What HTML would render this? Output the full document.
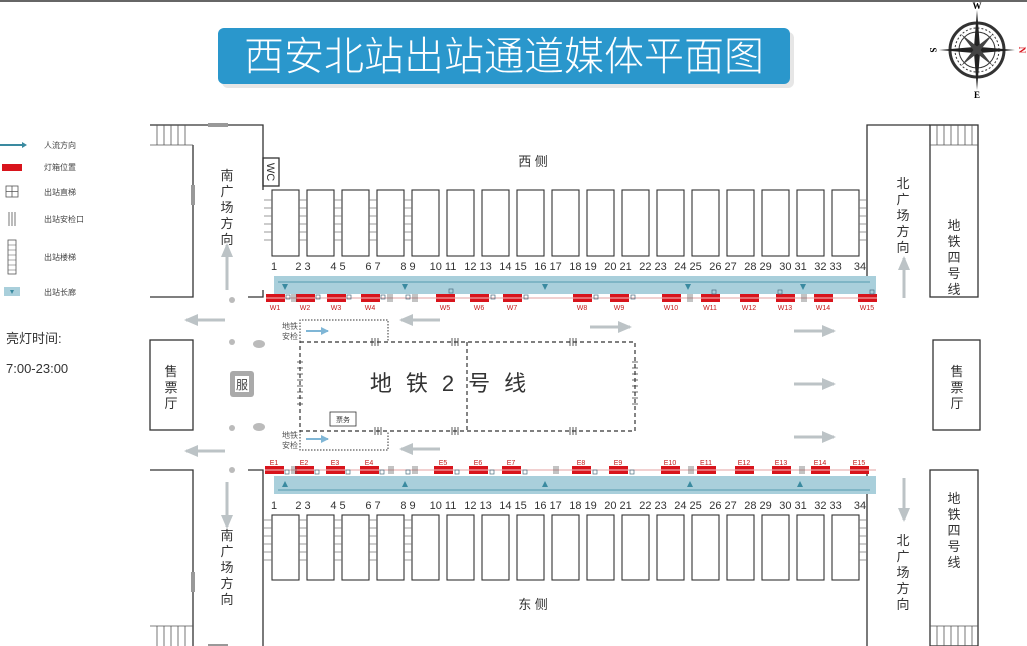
<!DOCTYPE html>
<html><head><meta charset="utf-8"><style>
html,body{margin:0;padding:0;background:#fff;}
svg{display:block;font-family:"Liberation Sans","Noto Sans CJK SC",sans-serif;}
</style></head><body>
<svg width="1027" height="646" viewBox="0 0 1027 646" xmlns="http://www.w3.org/2000/svg">
<defs>
<g id="rb"><rect x="0" y="0" width="19" height="8" fill="#d8141c"/><line x1="0" y1="4" x2="19" y2="4" stroke="#fff" stroke-width="0.8"/></g>
<marker id="ah" markerUnits="userSpaceOnUse" markerWidth="14" markerHeight="12" refX="12" refY="6" orient="auto"><path d="M0 0L14 6L0 12z" fill="#bcc3c6"/></marker>
<marker id="bh" markerUnits="userSpaceOnUse" markerWidth="8" markerHeight="8" refX="7" refY="4" orient="auto"><path d="M0 0L8 4L0 8z" fill="#7fb6d6"/></marker>
</defs>
<line x1="0" y1="1" x2="1027" y2="1" stroke="#333" stroke-width="1.5"/>
<!-- title -->
<rect x="222" y="32" width="572" height="56" rx="6" fill="#e6e6e6"/>
<rect x="218" y="28" width="572" height="56" rx="6" fill="#2a97cc"/>
<text x="504" y="70" font-size="40" fill="#fff" text-anchor="middle" font-family="Noto Sans CJK SC,sans-serif" font-weight="300">西安北站出站通道媒体平面图</text>
<!-- compass -->
<g transform="translate(977,50)">
<circle r="27" fill="none" stroke="#333" stroke-width="3"/><circle r="22" fill="none" stroke="#333" stroke-width="1" stroke-dasharray="2 2"/><circle r="18" fill="none" stroke="#333" stroke-width="1"/>
<path d="M0 -40L3 -3L0 0L-3 -3Z M0 40L3 3L0 0L-3 3Z M-38 0L-3 -3L0 0L-3 3Z M38 0L3 -3L0 0L3 3Z" fill="#222"/>
<path d="M-16 -16L2 -2L-2 2Z M16 16L-2 2L2 -2Z M16 -16L2 2L-2 -2Z M-16 16L-2 -2L2 2Z" fill="#444"/>
<text x="0" y="-41" font-size="9" font-weight="bold" text-anchor="middle" font-family="Liberation Serif,serif">W</text>
<text x="0" y="48" font-size="9" font-weight="bold" text-anchor="middle" font-family="Liberation Serif,serif">E</text>
<text x="-44" y="3" font-size="9" font-weight="bold" text-anchor="middle" transform="rotate(90 -44 0)" font-family="Liberation Serif,serif">S</text>
<text x="45" y="3" font-size="9" font-weight="bold" fill="#d8141c" text-anchor="middle" transform="rotate(90 45 0)" font-family="Liberation Serif,serif">N</text>
</g>
<!-- legend -->
<g font-size="8" fill="#444">
<line x1="0" y1="145" x2="22" y2="145" stroke="#3a8aa0" stroke-width="2"/><path d="M22 142L27 145L22 148Z" fill="#3a8aa0"/>
<text x="44" y="148">人流方向</text>
<rect x="2" y="164" width="20" height="7" fill="#d8141c"/><text x="44" y="170">灯箱位置</text>
<rect x="6" y="186" width="12" height="11" fill="none" stroke="#555" stroke-width="0.8"/><path d="M6 191.5H18M12 186V197" stroke="#555" stroke-width="0.8"/><text x="44" y="195">出站直梯</text>
<path d="M9 212V226M12 212V226M15 212V226" stroke="#555" stroke-width="0.8"/><text x="44" y="222">出站安检口</text>
<rect x="8" y="240" width="8" height="34" fill="none" stroke="#555" stroke-width="0.8"/><path d="M8 245H16M8 250H16M8 255H16M8 260H16M8 265H16M8 270H16" stroke="#555" stroke-width="0.6"/><text x="44" y="260">出站楼梯</text>
<rect x="4" y="287" width="16" height="9" fill="#a9cfdb"/><path d="M10 290L14 290L12 294Z" fill="#3a8aa0"/><text x="44" y="295">出站长廊</text>
</g>
<text x="6" y="343" font-size="13" fill="#333">亮灯时间:</text>
<text x="6" y="373" font-size="13" fill="#333">7:00-23:00</text>
<!-- structure lines -->
<g stroke="#333" stroke-width="1.3" fill="none">
<path d="M150 125H263V190"/><path d="M193 145V297H150"/><path d="M263 290V297H248"/>
<path d="M150 470H193V646"/><path d="M248 470H263V646"/>
<path d="M867 297V125H930"/><path d="M867 470V646"/>
<rect x="930" y="125" width="48" height="172"/><rect x="930" y="470" width="48" height="176"/>
<rect x="150" y="340" width="43" height="90"/><rect x="933" y="340" width="47" height="90"/>
<rect x="263" y="158" width="16" height="28"/>
</g>
<g stroke="#555" stroke-width="0.8" fill="none">
<path d="M150 145H193M157 125V145M164 125V145M171 125V145M178 125V145M185 125V145"/>
<path d="M930 145H978M937 125V145M944 125V145M951 125V145M958 125V145M965 125V145M972 125V145"/>
<path d="M150 626H193M157 626V646M164 626V646M171 626V646M178 626V646M185 626V646"/>
<path d="M930 626H978M937 626V646M944 626V646M951 626V646M958 626V646M965 626V646M972 626V646"/>
</g>
<rect x="191" y="185" width="4" height="20" fill="#999"/><rect x="191" y="572" width="4" height="20" fill="#999"/>
<rect x="208" y="123" width="20" height="4" fill="#999"/><rect x="208" y="644" width="20" height="3" fill="#999"/>
<text x="271" y="176" font-size="11" fill="#333" text-anchor="middle" transform="rotate(90 271 172)">WC</text>
<!-- vertical texts -->
<g font-size="13" fill="#333" text-anchor="middle">
<text x="227" y="180">南</text><text x="227" y="196">广</text><text x="227" y="212">场</text><text x="227" y="228">方</text><text x="227" y="244">向</text>
<text x="227" y="540">南</text><text x="227" y="556">广</text><text x="227" y="572">场</text><text x="227" y="588">方</text><text x="227" y="604">向</text>
<text x="903" y="188">北</text><text x="903" y="204">广</text><text x="903" y="220">场</text><text x="903" y="236">方</text><text x="903" y="252">向</text>
<text x="903" y="545">北</text><text x="903" y="561">广</text><text x="903" y="577">场</text><text x="903" y="593">方</text><text x="903" y="609">向</text>
<text x="954" y="230">地</text><text x="954" y="246">铁</text><text x="954" y="262">四</text><text x="954" y="278">号</text><text x="954" y="294">线</text>
<text x="954" y="503">地</text><text x="954" y="519">铁</text><text x="954" y="535">四</text><text x="954" y="551">号</text><text x="954" y="567">线</text>
<text x="171" y="376">售</text><text x="171" y="392">票</text><text x="171" y="408">厅</text>
<text x="957" y="376">售</text><text x="957" y="392">票</text><text x="957" y="408">厅</text>
<text x="533" y="166">西 侧</text><text x="533" y="609">东 侧</text>
</g>
<!-- platform boxes -->
<g fill="#fff" stroke="#333" stroke-width="1.1">
<rect x="272" y="190" width="27" height="66"/><rect x="307" y="190" width="27" height="66"/><rect x="342" y="190" width="27" height="66"/><rect x="377" y="190" width="27" height="66"/><rect x="412" y="190" width="27" height="66"/><rect x="447" y="190" width="27" height="66"/><rect x="482" y="190" width="27" height="66"/><rect x="517" y="190" width="27" height="66"/><rect x="552" y="190" width="27" height="66"/><rect x="587" y="190" width="27" height="66"/><rect x="622" y="190" width="27" height="66"/><rect x="657" y="190" width="27" height="66"/><rect x="692" y="190" width="27" height="66"/><rect x="727" y="190" width="27" height="66"/><rect x="762" y="190" width="27" height="66"/><rect x="797" y="190" width="27" height="66"/><rect x="832" y="190" width="27" height="66"/>
<rect x="272" y="515" width="27" height="65"/><rect x="307" y="515" width="27" height="65"/><rect x="342" y="515" width="27" height="65"/><rect x="377" y="515" width="27" height="65"/><rect x="412" y="515" width="27" height="65"/><rect x="447" y="515" width="27" height="65"/><rect x="482" y="515" width="27" height="65"/><rect x="517" y="515" width="27" height="65"/><rect x="552" y="515" width="27" height="65"/><rect x="587" y="515" width="27" height="65"/><rect x="622" y="515" width="27" height="65"/><rect x="657" y="515" width="27" height="65"/><rect x="692" y="515" width="27" height="65"/><rect x="727" y="515" width="27" height="65"/><rect x="762" y="515" width="27" height="65"/><rect x="797" y="515" width="27" height="65"/><rect x="832" y="515" width="27" height="65"/>
</g>
<g stroke="#777" stroke-width="0.7">
<path d="M264 200H272M264 208H272M264 216H272M264 224H272M264 232H272M264 240H272M299 200H307M299 208H307M299 216H307M299 224H307M299 232H307M299 240H307M334 200H342M334 208H342M334 216H342M334 224H342M334 232H342M334 240H342M369 200H377M369 208H377M369 216H377M369 224H377M369 232H377M369 240H377M404 200H412M404 208H412M404 216H412M404 224H412M404 232H412M404 240H412M859 200H867M859 208H867M859 216H867M859 224H867M859 232H867M859 240H867"/>
<path d="M264 520H272M264 528H272M264 536H272M264 544H272M264 552H272M264 560H272M299 520H307M299 528H307M299 536H307M299 544H307M299 552H307M299 560H307M334 520H342M334 528H342M334 536H342M334 544H342M334 552H342M334 560H342M369 520H377M369 528H377M369 536H377M369 544H377M369 552H377M369 560H377M404 520H412M404 528H412M404 536H412M404 544H412M404 552H412M404 560H412M859 520H867M859 528H867M859 536H867M859 544H867M859 552H867M859 560H867"/>
</g>
<!-- numbers -->
<g font-size="11" fill="#333" text-anchor="middle">
<text x="274" y="270">1</text><text x="303" y="270">2 3</text><text x="338" y="270">4 5</text><text x="373" y="270">6 7</text><text x="408" y="270">8 9</text><text x="443" y="270">10 11</text><text x="478" y="270">12 13</text><text x="513" y="270">14 15</text><text x="548" y="270">16 17</text><text x="583" y="270">18 19</text><text x="618" y="270">20 21</text><text x="653" y="270">22 23</text><text x="688" y="270">24 25</text><text x="723" y="270">26 27</text><text x="758" y="270">28 29</text><text x="793" y="270">30 31</text><text x="828" y="270">32 33</text><text x="860" y="270">34</text>
<text x="274" y="509">1</text><text x="303" y="509">2 3</text><text x="338" y="509">4 5</text><text x="373" y="509">6 7</text><text x="408" y="509">8 9</text><text x="443" y="509">10 11</text><text x="478" y="509">12 13</text><text x="513" y="509">14 15</text><text x="548" y="509">16 17</text><text x="583" y="509">18 19</text><text x="618" y="509">20 21</text><text x="653" y="509">22 23</text><text x="688" y="509">24 25</text><text x="723" y="509">26 27</text><text x="758" y="509">28 29</text><text x="793" y="509">30 31</text><text x="828" y="509">32 33</text><text x="860" y="509">34</text>
</g>
<!-- corridors -->
<rect x="274" y="276" width="602" height="18" fill="#a9cfdb"/>
<line x1="278" y1="282" x2="870" y2="282" stroke="#3a8aa0" stroke-width="0.8"/>
<rect x="274" y="476" width="602" height="18" fill="#a9cfdb"/>
<line x1="278" y1="490" x2="870" y2="490" stroke="#3a8aa0" stroke-width="0.8"/>
<g fill="#3a8aa0">
<path d="M282 284L288 284L285 290Z"/><path d="M402 284L408 284L405 290Z"/><path d="M542 284L548 284L545 290Z"/><path d="M685 284L691 284L688 290Z"/><path d="M800 284L806 284L803 290Z"/>
<path d="M282 487L288 487L285 481Z"/><path d="M402 487L408 487L405 481Z"/><path d="M542 487L548 487L545 481Z"/><path d="M687 487L693 487L690 481Z"/><path d="M797 487L803 487L800 481Z"/>
</g>
<line x1="266" y1="298" x2="876" y2="298" stroke="#e3a2a2" stroke-width="1"/>
<line x1="266" y1="470" x2="876" y2="470" stroke="#e3a2a2" stroke-width="1"/>
<use href="#rb" x="266" y="294"/><use href="#rb" x="296" y="294"/><use href="#rb" x="327" y="294"/><use href="#rb" x="361" y="294"/><use href="#rb" x="436" y="294"/><use href="#rb" x="470" y="294"/><use href="#rb" x="503" y="294"/><use href="#rb" x="573" y="294"/><use href="#rb" x="610" y="294"/><use href="#rb" x="662" y="294"/><use href="#rb" x="701" y="294"/><use href="#rb" x="740" y="294"/><use href="#rb" x="776" y="294"/><use href="#rb" x="814" y="294"/><use href="#rb" x="858" y="294"/>
<g font-size="7" fill="#c41a1a" text-anchor="middle">
<text x="275" y="310">W1</text><text x="305" y="310">W2</text><text x="336" y="310">W3</text><text x="370" y="310">W4</text><text x="445" y="310">W5</text><text x="479" y="310">W6</text><text x="512" y="310">W7</text><text x="582" y="310">W8</text><text x="619" y="310">W9</text><text x="671" y="310">W10</text><text x="710" y="310">W11</text><text x="749" y="310">W12</text><text x="785" y="310">W13</text><text x="823" y="310">W14</text><text x="867" y="310">W15</text>
<text x="274" y="465">E1</text><text x="304" y="465">E2</text><text x="335" y="465">E3</text><text x="369" y="465">E4</text><text x="443" y="465">E5</text><text x="478" y="465">E6</text><text x="511" y="465">E7</text><text x="581" y="465">E8</text><text x="618" y="465">E9</text><text x="670" y="465">E10</text><text x="706" y="465">E11</text><text x="744" y="465">E12</text><text x="781" y="465">E13</text><text x="820" y="465">E14</text><text x="859" y="465">E15</text>
</g>
<use href="#rb" x="265" y="466"/><use href="#rb" x="295" y="466"/><use href="#rb" x="326" y="466"/><use href="#rb" x="360" y="466"/><use href="#rb" x="434" y="466"/><use href="#rb" x="469" y="466"/><use href="#rb" x="502" y="466"/><use href="#rb" x="572" y="466"/><use href="#rb" x="609" y="466"/><use href="#rb" x="661" y="466"/><use href="#rb" x="697" y="466"/><use href="#rb" x="735" y="466"/><use href="#rb" x="772" y="466"/><use href="#rb" x="811" y="466"/><use href="#rb" x="850" y="466"/>
<g fill="none" stroke="#4b6d80" stroke-width="0.7">
<rect x="286" y="295" width="4" height="4"/><rect x="316" y="295" width="4" height="4"/><rect x="347" y="295" width="4" height="4"/><rect x="381" y="295" width="4" height="4"/><rect x="406" y="295" width="4" height="4"/><rect x="449" y="289" width="4" height="4"/><rect x="491" y="295" width="4" height="4"/><rect x="524" y="295" width="4" height="4"/><rect x="594" y="295" width="4" height="4"/><rect x="631" y="295" width="4" height="4"/><rect x="712" y="290" width="4" height="4"/><rect x="778" y="290" width="4" height="4"/><rect x="870" y="290" width="4" height="4"/>
<rect x="285" y="470" width="4" height="4"/><rect x="315" y="470" width="4" height="4"/><rect x="346" y="470" width="4" height="4"/><rect x="380" y="470" width="4" height="4"/><rect x="406" y="470" width="4" height="4"/><rect x="455" y="470" width="4" height="4"/><rect x="490" y="470" width="4" height="4"/><rect x="523" y="470" width="4" height="4"/><rect x="593" y="470" width="4" height="4"/><rect x="630" y="470" width="4" height="4"/>
</g>
<g stroke="#555" stroke-width="0.7">
<path d="M292 294V302M294 294V302M296 294V302M388 294V302M390 294V302M392 294V302M413 294V302M415 294V302M417 294V302M688 294V302M690 294V302M692 294V302M802 294V302M804 294V302M806 294V302"/>
<path d="M292 466V474M294 466V474M296 466V474M389 466V474M391 466V474M393 466V474M413 466V474M415 466V474M417 466V474M554 466V474M556 466V474M558 466V474M689 466V474M691 466V474M693 466V474M800 466V474M802 466V474M804 466V474"/>
</g>
<!-- metro -->
<g fill="none" stroke="#333" stroke-width="1.2" stroke-dasharray="4 3">
<rect x="300" y="342" width="335" height="89"/><line x1="467" y1="342" x2="467" y2="431"/>
</g>
<g fill="none" stroke="#333" stroke-width="1" stroke-dasharray="1.5 1.5">
<path d="M300 342V320H388V342"/><path d="M300 431V450H388V431"/>
</g>
<g stroke="#333" stroke-width="0.8">
<path d="M372 338V346M375 338V346M378 338V346M452 338V346M455 338V346M458 338V346M570 338V346M573 338V346M576 338V346"/>
<path d="M375 427V435M378 427V435M381 427V435M452 427V435M455 427V435M458 427V435M570 427V435M573 427V435M576 427V435"/>
<path d="M297 362H303M297 368H303M297 374H303M297 380H303M297 386H303M297 392H303M297 398H303M297 404H303M632 362H638M632 368H638M632 374H638M632 380H638M632 386H638M632 392H638M632 398H638M632 404H638"/>
</g>
<text x="455" y="391" font-size="22" fill="#333" text-anchor="middle" letter-spacing="14">地铁2号线</text>
<rect x="330" y="412" width="26" height="14" fill="#fff" stroke="#333" stroke-width="0.8"/>
<text x="343" y="422" font-size="7" fill="#333" text-anchor="middle">票务</text>
<g font-size="8" fill="#555" text-anchor="middle">
<text x="290" y="329">地铁</text><text x="290" y="339">安检</text>
<text x="290" y="438">地铁</text><text x="290" y="448">安检</text>
</g>
<line x1="306" y1="331" x2="328" y2="331" stroke="#7fb6d6" stroke-width="2" marker-end="url(#bh)"/>
<line x1="306" y1="439" x2="328" y2="439" stroke="#7fb6d6" stroke-width="2" marker-end="url(#bh)"/>
<!-- gray arrows -->
<g stroke="#bcc3c6" stroke-width="3" marker-end="url(#ah)">
<line x1="225" y1="320" x2="186" y2="320"/><line x1="440" y1="320" x2="401" y2="320"/>
<line x1="225" y1="451" x2="186" y2="451"/><line x1="440" y1="449" x2="401" y2="449"/>
<line x1="590" y1="327" x2="630" y2="327"/>
<line x1="794" y1="331" x2="834" y2="331"/><line x1="794" y1="384" x2="834" y2="384"/><line x1="794" y1="437" x2="834" y2="437"/>
<line x1="227" y1="290" x2="227" y2="245"/><line x1="227" y1="482" x2="227" y2="527"/>
<line x1="904" y1="298" x2="904" y2="258"/><line x1="904" y1="478" x2="904" y2="520"/>
</g>
<g fill="#bbb">
<circle cx="232" cy="300" r="3"/><circle cx="232" cy="342" r="3"/><circle cx="232" cy="428" r="3"/><circle cx="232" cy="470" r="3"/>
<ellipse cx="259" cy="344" rx="6" ry="4"/><ellipse cx="259" cy="427" rx="6" ry="4"/>
</g>
<rect x="230" y="371" width="24" height="26" rx="3" fill="#aaa"/>
<rect x="235" y="376" width="14" height="16" fill="#fff"/>
<text x="242" y="389" font-size="12" fill="#444" text-anchor="middle">服</text>
</svg>
</body></html>
